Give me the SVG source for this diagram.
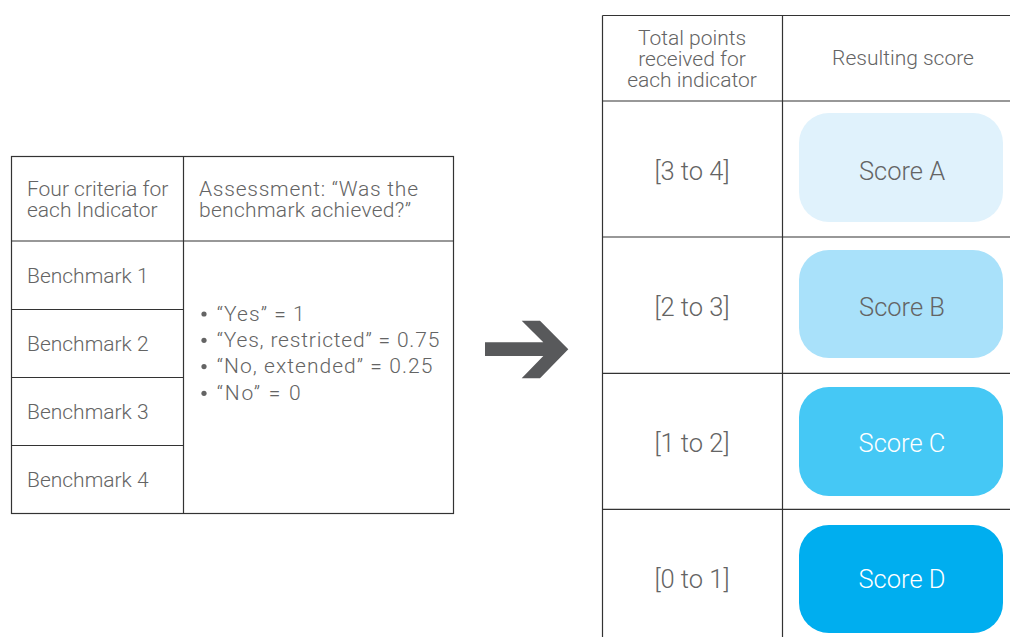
<svg xmlns="http://www.w3.org/2000/svg" width="1010" height="637" viewBox="0 0 1010 637">
<style>
.t{font-family:Roboto,"Liberation Sans",sans-serif;font-weight:300;fill:#646464;font-size:21px}
.big{font-size:25.5px}
.c{text-anchor:middle}
.w{fill:#ffffff}
.ln{stroke:#333;stroke-width:1.2;fill:none}
.dot{fill:#646464}
</style>
<rect width="1010" height="637" fill="#fff"/>
<g id="left-table">
<rect class="ln" x="11.5" y="156.5" width="442" height="357"/>
<line class="ln" x1="183.5" y1="156.5" x2="183.5" y2="513.5"/>
<line class="ln" x1="11.5" y1="241" x2="453.5" y2="241"/>
<line class="ln" x1="11.5" y1="309.5" x2="183.5" y2="309.5"/>
<line class="ln" x1="11.5" y1="377.5" x2="183.5" y2="377.5"/>
<line class="ln" x1="11.5" y1="445.5" x2="183.5" y2="445.5"/>
<text class="t" x="27" y="196">Four criteria for</text>
<text class="t" x="27" y="216.7">each Indicator</text>
<text class="t" x="199" y="196" textLength="219" lengthAdjust="spacing">Assessment: “Was the</text>
<text class="t" x="199" y="216.7" textLength="212" lengthAdjust="spacing">benchmark achieved?”</text>
<text class="t" x="27" y="282.7">Benchmark 1</text>
<text class="t" x="27" y="350.7">Benchmark 2</text>
<text class="t" x="27" y="418.7">Benchmark 3</text>
<text class="t" x="27" y="486.5">Benchmark 4</text>
<circle class="dot" cx="204" cy="314" r="2.6"/>
<circle class="dot" cx="204" cy="340.3" r="2.6"/>
<circle class="dot" cx="204" cy="366.6" r="2.6"/>
<circle class="dot" cx="204" cy="393.3" r="2.6"/>
<text class="t" x="216.7" y="320.7" textLength="88" lengthAdjust="spacing">“Yes” = 1</text>
<text class="t" x="216.7" y="347" textLength="222.6" lengthAdjust="spacing">“Yes, restricted” = 0.75</text>
<text class="t" x="216.7" y="373.3" textLength="215.6" lengthAdjust="spacing">“No, extended” = 0.25</text>
<text class="t" x="216.7" y="400" textLength="84" lengthAdjust="spacing">“No” = 0</text>
</g>
<g id="connectors">
<polygon points="485,342.3 543.3,342.3 521.7,320.7 540,320.7 568.3,349.3 540,378.3 521.7,378.3 543.3,356 485,356" fill="#58595b"/>
</g>
<g id="right-table">
<line class="ln" x1="602.5" y1="15.5" x2="1010" y2="15.5"/>
<line class="ln" x1="602.5" y1="15.5" x2="602.5" y2="637"/>
<line class="ln" x1="782.5" y1="15.5" x2="782.5" y2="637"/>
<line class="ln" x1="602.5" y1="101" x2="1010" y2="101"/>
<line class="ln" x1="602.5" y1="237" x2="1010" y2="237"/>
<line class="ln" x1="602.5" y1="373.3" x2="1010" y2="373.3"/>
<line class="ln" x1="602.5" y1="509.3" x2="1010" y2="509.3"/>
<text class="t c" x="692" y="45">Total points</text>
<text class="t c" x="692" y="65.7">received for</text>
<text class="t c" x="692" y="86.5">each indicator</text>
<text class="t c" x="903" y="65">Resulting score</text>
<text class="t big c" x="692" y="180">[3 to 4]</text>
<text class="t big c" x="692" y="316">[2 to 3]</text>
<text class="t big c" x="692" y="451.5">[1 to 2]</text>
<text class="t big c" x="692" y="587.5">[0 to 1]</text>
</g>
<g id="score-a">
<rect x="799" y="113" width="204" height="109" rx="30" fill="#e0f2fc"/>
<text class="t big c" x="902" y="180">Score A</text>
</g>
<g id="score-b">
<rect x="799" y="250" width="204" height="108" rx="30" fill="#a9e1fa"/>
<text class="t big c" x="902" y="316">Score B</text>
</g>
<g id="score-c">
<rect x="799" y="387" width="204" height="109" rx="30" fill="#45c8f5"/>
<text class="t big c w" x="902" y="451.5">Score C</text>
</g>
<g id="score-d">
<rect x="799" y="525" width="204" height="108" rx="30" fill="#00aeef"/>
<text class="t big c w" x="902" y="587.5">Score D</text>
</g>
</svg>
